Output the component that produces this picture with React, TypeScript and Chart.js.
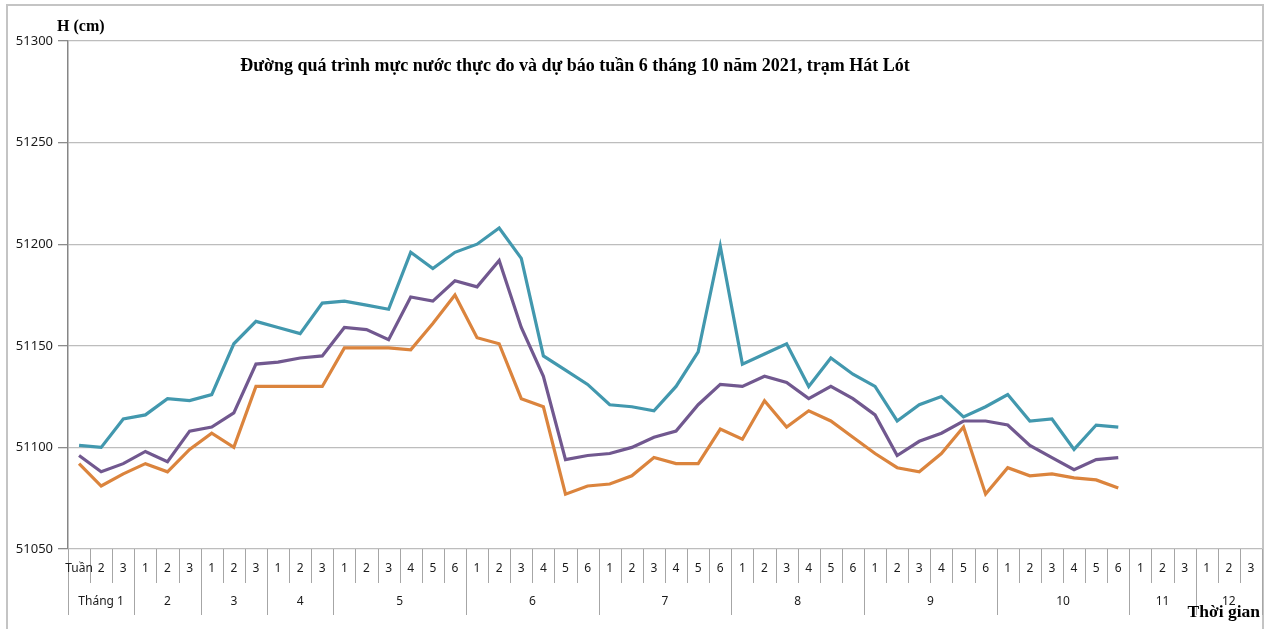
import React, { useEffect, useRef } from "react";
import { Chart, registerables } from "chart.js";

Chart.register(...registerables);

const chartTitle = "Đường quá trình mực nước thực đo và dự báo tuần 6 tháng 10 năm 2021, trạm Hát Lót";
const yAxisTitle = "H (cm)";
const xAxisTitle = "Thời gian";

const monthLabels = ["Tháng 1", "2", "3", "4", "5", "6", "7", "8", "9", "10", "11", "12"];
const monthWeekCounts = [3, 3, 3, 3, 6, 6, 6, 6, 6, 6, 3, 3];
const weekLabels = [
  "Tuần", "2", "3",
  "1", "2", "3",
  "1", "2", "3",
  "1", "2", "3",
  "1", "2", "3", "4", "5", "6",
  "1", "2", "3", "4", "5", "6",
  "1", "2", "3", "4", "5", "6",
  "1", "2", "3", "4", "5", "6",
  "1", "2", "3", "4", "5", "6",
  "1", "2", "3", "4", "5", "6",
  "1", "2", "3",
  "1", "2", "3",
];

const hMax = [
  51101, 51100, 51114, 51116, 51124, 51123, 51126, 51151, 51162, 51159, 51156, 51171,
  51172, 51170, 51168, 51196, 51188, 51196, 51200, 51208, 51193, 51145, 51138, 51131,
  51121, 51120, 51118, 51130, 51147, 51199, 51141, 51146, 51151, 51130, 51144, 51136,
  51130, 51113, 51121, 51125, 51115, 51120, 51126, 51113, 51114, 51099, 51111, 51110,
];
const hAvg = [
  51096, 51088, 51092, 51098, 51093, 51108, 51110, 51117, 51141, 51142, 51144, 51145,
  51159, 51158, 51153, 51174, 51172, 51182, 51179, 51192, 51159, 51135, 51094, 51096,
  51097, 51100, 51105, 51108, 51121, 51131, 51130, 51135, 51132, 51124, 51130, 51124,
  51116, 51096, 51103, 51107, 51113, 51113, 51111, 51101, 51095, 51089, 51094, 51095,
];
const hMin = [
  51092, 51081, 51087, 51092, 51088, 51099, 51107, 51100, 51130, 51130, 51130, 51130,
  51149, 51149, 51149, 51148, 51161, 51175, 51154, 51151, 51124, 51120, 51077, 51081,
  51082, 51086, 51095, 51092, 51092, 51109, 51104, 51123, 51110, 51118, 51113, 51105,
  51097, 51090, 51088, 51097, 51110, 51077, 51090, 51086, 51087, 51085, 51084, 51080,
];

const yMin = 51050;
const yMax = 51300;
const yStep = 50;

export default function App() {
  const canvasRef = useRef<HTMLCanvasElement | null>(null);

  useEffect(() => {
    if (!canvasRef.current) return;

    const decorPlugin = {
      id: "decor",
      beforeDraw(chart: any) {
        const ctx = chart.ctx;
        ctx.save();
        ctx.fillStyle = "#ffffff";
        ctx.fillRect(0, 0, chart.width, chart.height);
        ctx.strokeStyle = "#c4c4c4";
        ctx.lineWidth = 2;
        ctx.strokeRect(7, 5, 1256, 660);
        ctx.restore();
      },
      afterDraw(chart: any) {
        const ctx = chart.ctx;
        const area = chart.chartArea;
        const xs = chart.scales.x;
        const n = weekLabels.length;
        const centers: number[] = [];
        for (let i = 0; i < n; i++) centers.push(xs.getPixelForValue(i));
        const step = n > 1 ? centers[1] - centers[0] : 20;
        const boundary = (i: number) => centers[0] - step / 2 + step * i;

        ctx.save();
        ctx.strokeStyle = "#a6a6a6";
        ctx.lineWidth = 1;
        const monthStarts = new Set<number>();
        let acc = 0;
        monthStarts.add(0);
        monthWeekCounts.forEach((c) => {
          acc += c;
          monthStarts.add(acc);
        });
        for (let i = 0; i <= n; i++) {
          const x = Math.round(boundary(i)) + 0.5;
          const bottom = monthStarts.has(i) ? 615 : 583;
          ctx.beginPath();
          ctx.moveTo(x, area.bottom);
          ctx.lineTo(x, bottom);
          ctx.stroke();
        }

        ctx.fillStyle = "#1a1a1a";
        ctx.font = "12px 'Noto Sans'";
        ctx.textAlign = "center";
        ctx.textBaseline = "middle";
        weekLabels.forEach((lab, i) => {
          ctx.fillText(lab, centers[i], 569);
        });
        let start = 0;
        monthLabels.forEach((lab, m) => {
          const end = start + monthWeekCounts[m];
          const cx = (boundary(start) + boundary(end)) / 2;
          ctx.fillText(lab, cx, 602);
          start = end;
        });

        ctx.fillStyle = "#000000";
        ctx.font = "bold 16px 'Liberation Serif'";
        ctx.textAlign = "left";
        ctx.fillText(yAxisTitle, 57, 27);
        ctx.font = "bold 17.5px 'Liberation Serif'";
        ctx.textAlign = "right";
        ctx.fillText(xAxisTitle, 1260, 612);
        ctx.textAlign = "center";
        ctx.font = "bold 18px 'Liberation Serif'";
        ctx.fillText(chartTitle, 575, 66);
        ctx.restore();
      },
    };

    const chart = new Chart(canvasRef.current, {
      type: "line",
      data: {
        labels: weekLabels,
        datasets: [
          { label: "Hmax", data: hMax, borderColor: "#4298AE", backgroundColor: "#4298AE", borderWidth: 3.2, pointRadius: 0, tension: 0 },
          { label: "Htb", data: hAvg, borderColor: "#71588F", backgroundColor: "#71588F", borderWidth: 3.2, pointRadius: 0, tension: 0 },
          { label: "Hmin", data: hMin, borderColor: "#DB843D", backgroundColor: "#DB843D", borderWidth: 3.2, pointRadius: 0, tension: 0 },
        ],
      },
      options: {
        animation: false,
        responsive: true,
        maintainAspectRatio: false,
        layout: { padding: { left: 0, right: 5, top: 41, bottom: 80 } },
        plugins: {
          legend: { display: false },
          tooltip: { enabled: false },
          title: { display: false },
        },
        scales: {
          x: {
            type: "category",
            display: false,
            offset: true,
          },
          y: {
            min: yMin,
            max: yMax,
            afterFit: (scale: any) => {
              scale.width = 68;
            },
            ticks: {
              stepSize: yStep,
              color: "#1a1a1a",
              padding: 5,
              font: { family: "'Noto Sans'", size: 13 },
              callback: (v: any) => String(v),
            },
            grid: {
              color: "#bdbdbd",
              lineWidth: 1.3,
              tickLength: 10,
              tickColor: "#8c8c8c",
            },
            border: { display: true, color: "#868686", width: 1.5 },
          },
        },
      },
      plugins: [decorPlugin],
    });

    return () => chart.destroy();
  }, []);

  return (
    <div style={{ position: "fixed", left: 0, top: 0, width: 1267, height: 629 }}>
      <canvas ref={canvasRef} />
    </div>
  );
}
